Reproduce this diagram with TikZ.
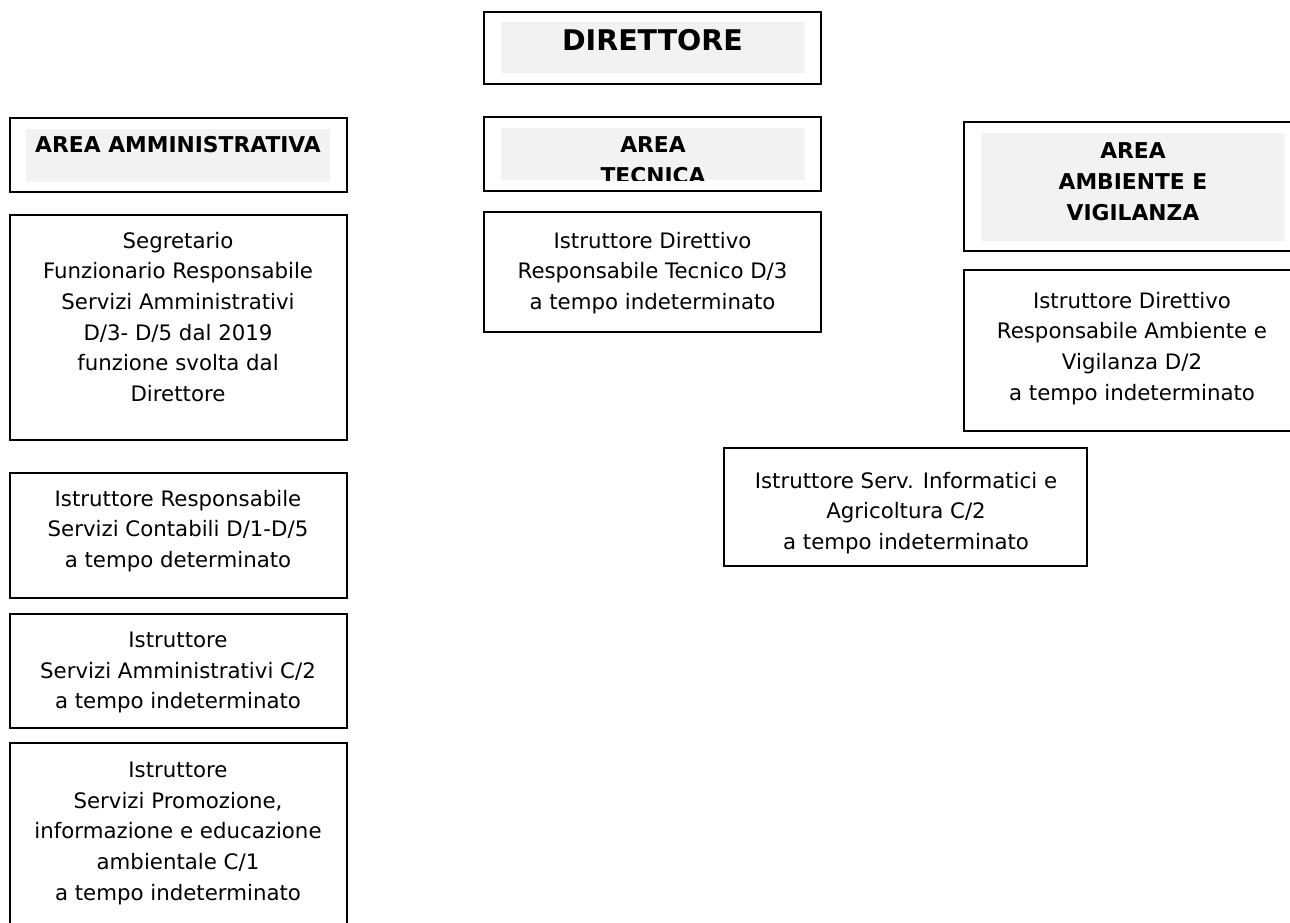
\documentclass[tikz,border=0pt]{standalone}
\usepackage{fontspec}
\setmainfont{DejaVu Sans}
\definecolor{graybg}{RGB}{242,242,242}
\tikzset{
  box/.style={draw=black, line width=1.6pt, anchor=north west, inner sep=0pt, outer sep=0pt},
  shadebox/.style={fill=graybg, draw=none, anchor=north west, inner sep=0pt, outer sep=0pt},
  txt/.style={anchor=north, align=center, inner sep=0pt, font=\fontsize{21.3}{30.6}\selectfont},
  ttl/.style={anchor=north, align=center, inner sep=0pt, font=\fontsize{21.8}{31}\selectfont\bfseries},
  bigttl/.style={anchor=north, align=center, inner sep=0pt, font=\fontsize{28.5}{35}\selectfont\bfseries},
}
\begin{document}
\begin{tikzpicture}[x=1pt,y=-1pt]
\clip (0,0) rectangle (1290,922);
\fill[white] (0,0) rectangle (1290,922);

% DIRETTORE
\node[box, minimum width=337pt, minimum height=72pt] (dir) at (484,12) {};
\node[shadebox, minimum width=304pt, minimum height=51pt] (dirG) at (501,22) {};
\node[bigttl] (dirT) at (652.5,29) {DIRETTORE};

% AREA AMMINISTRATIVA
\node[box, minimum width=337pt, minimum height=74pt] (amm) at (10,118) {};
\node[shadebox, minimum width=304pt, minimum height=53pt] (ammG) at (26,129) {};
\node[ttl] (ammT) at (178,136) {AREA AMMINISTRATIVA};

% AREA TECNICA
\node[box, minimum width=337pt, minimum height=74pt] (tec) at (484,117) {};
\node[shadebox, minimum width=304pt, minimum height=52pt] (tecG) at (501,128) {};
\begin{scope}
  \clip (tecG.north west) rectangle (tecG.south east);
  \node[ttl] (tecT) at (653,136) {AREA\\TECNICA};
\end{scope}

% AREA AMBIENTE E VIGILANZA
\node[box, minimum width=340pt, minimum height=129pt] (amb) at (964,122) {};
\node[shadebox, minimum width=304pt, minimum height=108pt] (ambG) at (981,133) {};
\node[ttl] (ambT) at (1133,142) {AREA\\AMBIENTE E\\VIGILANZA};

% Segretario
\node[box, minimum width=337pt, minimum height=225pt] (seg) at (10,215) {};
\node[txt] (segT) at (178,232) {Segretario\\Funzionario Responsabile\\Servizi Amministrativi\\D/3- D/5 dal 2019\\funzione svolta dal\\Direttore};

% Istruttore Direttivo Tecnico
\node[box, minimum width=337pt, minimum height=120pt] (tecI) at (484,212) {};
\node[txt] (tecIT) at (652.5,232) {Istruttore Direttivo\\Responsabile Tecnico D/3\\a tempo indeterminato};

% Istruttore Direttivo Ambiente
\node[box, minimum width=340pt, minimum height=161pt] (ambI) at (964,270) {};
\node[txt] (ambIT) at (1132,292) {Istruttore Direttivo\\Responsabile Ambiente e\\Vigilanza D/2\\a tempo indeterminato};

% Serv. Informatici
\node[box, minimum width=363pt, minimum height=118pt] (inf) at (724,448) {};
\node[txt] (infT) at (906,472) {Istruttore Serv. Informatici e\\Agricoltura C/2\\a tempo indeterminato};

% Contabili
\node[box, minimum width=337pt, minimum height=125pt] (cont) at (10,473) {};
\node[txt] (contT) at (178,490) {Istruttore Responsabile\\Servizi Contabili D/1-D/5\\a tempo determinato};

% Servizi Amministrativi C/2
\node[box, minimum width=337pt, minimum height=114pt] (sa) at (10,614) {};
\node[txt] (saT) at (178,632) {Istruttore\\Servizi Amministrativi C/2\\a tempo indeterminato};

% Promozione
\node[box, minimum width=337pt, minimum height=220pt] (pro) at (10,743) {};
\node[txt] (proT) at (178,762) {Istruttore\\Servizi Promozione,\\informazione e educazione\\ambientale C/1\\a tempo indeterminato};
\end{tikzpicture}
\end{document}
